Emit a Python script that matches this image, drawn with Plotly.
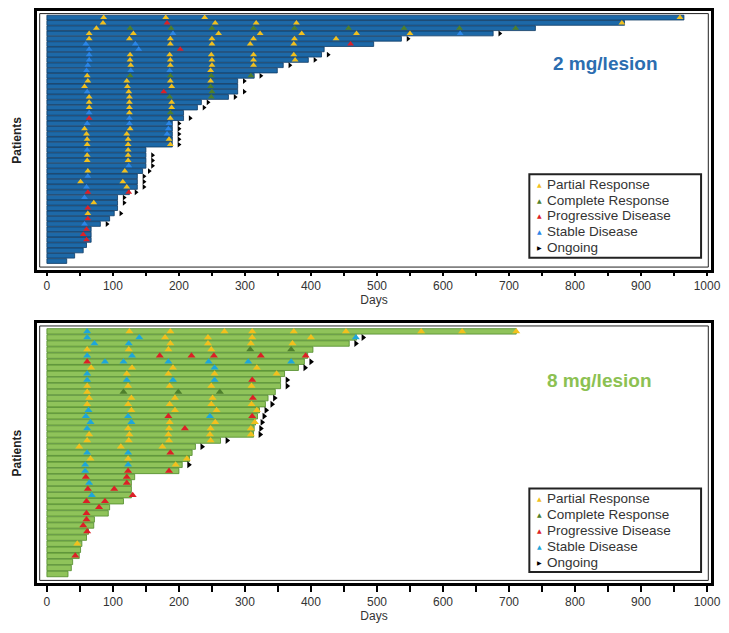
import plotly.graph_objects as go

# ---------------- 2 mg/lesion cohort ----------------
# treatment duration (days) per patient, top row first
days_2mg = [965, 875, 740, 676, 537, 495, 420, 416, 396, 358, 349, 314, 289, 289, 289,
            275, 234, 228, 207, 207, 190, 190, 190, 190, 190, 150, 150, 150, 150, 145,
            137, 137, 137, 125, 107, 107, 107, 102, 95, 81, 67, 67, 67, 60, 55, 42, 30]
ongoing_2mg = [4, 5, 8, 9, 10, 12, 13, 15, 16, 17, 18, 20, 21, 22, 23, 24, 25, 27, 28, 29,
               30, 31, 32, 33, 34, 35, 36, 38, 40]
# (patient row, assessment day)
pr_2mg = [(1, 86), (1, 180), (1, 239), (1, 959),
          (2, 85), (2, 255), (2, 317), (2, 378), (2, 871),
          (3, 75),
          (4, 64), (4, 131), (4, 260), (4, 323), (4, 386), (4, 469), (4, 550),
          (5, 64), (5, 125), (5, 187), (5, 250), (5, 313), (5, 375), (5, 438),
          (6, 187), (6, 250), (6, 308), (6, 374),
          (8, 126), (8, 186), (8, 249), (8, 313), (8, 374),
          (9, 126), (9, 187), (9, 250), (9, 313), (9, 376),
          (10, 127), (10, 187), (10, 250), (10, 313),
          (11, 248), (12, 61),
          (13, 62), (13, 121), (13, 187), (13, 248),
          (14, 57), (14, 122), (14, 189), (15, 124), (16, 64), (16, 125),
          (17, 64), (17, 125), (17, 189), (18, 64), (18, 125), (18, 189),
          (19, 125), (20, 187), (22, 57), (22, 126), (23, 60), (23, 121),
          (24, 61), (24, 123), (24, 185), (25, 61), (25, 123), (25, 187),
          (26, 123), (27, 61), (27, 123), (28, 61), (28, 123), (30, 62), (30, 118),
          (32, 51), (32, 115), (33, 121), (36, 71), (38, 62)]
cr_2mg = [(3, 126), (3, 188), (3, 250), (3, 313), (3, 375), (3, 457), (3, 541), (3, 625), (3, 710),
          (12, 126), (12, 187), (12, 249), (12, 309), (14, 248), (15, 250), (16, 186), (16, 249),
          (19, 187)]
pd_2mg = [(2, 182), (6, 460), (7, 202), (15, 177), (20, 64), (34, 62), (34, 124), (37, 62),
          (39, 62), (41, 60), (42, 55), (43, 60)]
sd_2mg = [(4, 191), (4, 626), (6, 59), (6, 134), (7, 64), (7, 139), (8, 64), (9, 64), (10, 62),
          (11, 60), (11, 127), (11, 186), (15, 61), (19, 64), (20, 125), (21, 61), (21, 125),
          (21, 185), (22, 184), (23, 182), (26, 61), (29, 124), (31, 62), (33, 60), (35, 57),
          (40, 57)]

# ---------------- 8 mg/lesion cohort ----------------
days_8mg = [711, 469, 458, 403, 395, 390, 381, 360, 354, 354, 346, 335, 331, 322, 319, 316,
            314, 313, 263, 225, 220, 216, 205, 200, 133, 128, 128, 128, 116, 95, 93, 72, 71,
            63, 60, 53, 51, 49, 39, 37, 32]
ongoing_8mg = [2, 3, 6, 7, 9, 10, 12, 13, 14, 15, 16, 17, 18, 19, 20, 23]
pr_8mg = [(1, 125), (1, 187), (1, 269), (1, 311), (1, 374), (1, 453), (1, 567), (1, 629), (1, 711),
          (2, 179), (2, 244), (2, 311), (2, 400),
          (3, 187), (3, 244), (3, 309), (3, 372),
          (4, 61), (4, 124), (4, 184), (4, 249),
          (7, 67), (7, 129), (7, 191), (7, 318),
          (8, 121), (8, 184), (8, 254), (8, 348),
          (10, 61), (10, 123), (10, 186), (10, 249), (10, 310),
          (11, 61),
          (12, 64), (12, 128), (12, 194), (12, 251),
          (13, 61), (13, 123), (13, 186), (13, 249), (13, 310),
          (14, 128), (14, 194), (14, 257), (14, 318),
          (16, 186), (16, 255), (16, 315),
          (17, 123), (17, 185), (17, 248), (17, 309),
          (18, 64), (18, 125), (18, 184), (18, 247), (18, 309),
          (19, 61), (19, 124), (19, 185), (19, 248),
          (20, 49), (20, 112), (20, 175),
          (22, 66), (22, 123), (22, 212), (23, 195), (36, 46)]
cr_8mg = [(4, 308), (4, 370), (11, 116), (11, 199), (11, 262)]
pd_8mg = [(5, 171), (5, 219), (5, 253), (5, 324), (5, 392), (6, 61), (9, 311), (12, 312),
          (15, 184), (15, 311), (17, 209), (21, 187), (24, 123), (24, 185), (25, 59), (25, 121),
          (26, 121), (27, 62), (27, 102), (28, 130), (29, 60), (29, 88), (30, 79), (31, 60),
          (32, 60), (33, 55), (34, 61), (38, 43)]
sd_8mg = [(1, 61), (2, 61), (2, 140), (2, 468), (3, 72), (3, 124), (5, 61), (5, 129), (6, 88),
          (6, 116), (6, 184), (6, 245), (6, 305), (6, 370), (7, 254), (8, 61), (9, 61), (9, 121),
          (9, 191), (9, 254), (14, 63), (15, 59), (15, 123), (15, 247), (16, 66), (16, 128),
          (17, 61), (21, 61), (21, 123), (23, 58), (23, 123), (24, 58), (26, 64), (28, 68)]

x_ticks = list(range(0, 1001, 50))
x_labels = [str(v) if v % 100 == 0 else "" for v in x_ticks]
legend_names = ["Partial Response", "Complete Response", "Progressive Disease",
                "Stable Disease", "Ongoing"]

FONT = "Liberation Sans, Arial, sans-serif"
PR_COLOR = "#f2c01e"
CR_COLOR = "#4e7f2c"
PD_COLOR = "#dc2027"
SD_2MG_COLOR = "#2b86e8"
SD_8MG_COLOR = "#1ea6da"

fig = go.Figure()


def add_panel(xa, ya, durations, ongoing, pr, cr, pd, sd,
              bar_fill, bar_line, sd_color, msize):
    rows = list(range(1, len(durations) + 1))
    fig.add_trace(go.Bar(
        y=rows, x=durations, base=0, orientation="h", width=0.9,
        marker=dict(color=bar_fill, line=dict(color=bar_line, width=0.8)),
        showlegend=False, hoverinfo="x", xaxis=xa, yaxis=ya))
    series = [(legend_names[0], pr, PR_COLOR),
              (legend_names[1], cr, CR_COLOR),
              (legend_names[2], pd, PD_COLOR),
              (legend_names[3], sd, sd_color)]
    for name, pts, col in series:
        fig.add_trace(go.Scatter(
            x=[d for _, d in pts], y=[r for r, _ in pts], mode="markers", name=name,
            marker=dict(symbol="triangle-up", size=msize, color=col, line=dict(width=0)),
            showlegend=False, xaxis=xa, yaxis=ya))
    fig.add_trace(go.Scatter(
        x=[durations[r - 1] + 10 for r in ongoing], y=ongoing, mode="markers",
        name=legend_names[4],
        marker=dict(symbol="triangle-right", size=msize - 1, color="black"),
        showlegend=False, xaxis=xa, yaxis=ya))


add_panel("x", "y", days_2mg, ongoing_2mg, pr_2mg, cr_2mg, pd_2mg, sd_2mg,
          "#1d69a8", "#0e3a63", SD_2MG_COLOR, 6)
add_panel("x2", "y2", days_8mg, ongoing_8mg, pr_8mg, cr_8mg, pd_8mg, sd_8mg,
          "#8fc35a", "#4f8a2a", SD_8MG_COLOR, 7)


def xaxis_style(ticklen):
    return dict(range=[-15, 1006], tickvals=x_ticks, ticktext=x_labels, ticks="outside",
                ticklen=ticklen, tickwidth=1.5, tickcolor="black", showgrid=False,
                zeroline=False, showline=True, linewidth=3, linecolor="black", mirror=True,
                tickfont=dict(family=FONT, size=12, color="#333"),
                title=dict(text="Days", font=dict(family=FONT, size=12, color="#333"),
                           standoff=4))


yaxis_style = dict(showticklabels=False, ticks="", showgrid=False, zeroline=False,
                   showline=True, linewidth=3, linecolor="black", mirror=True,
                   title=dict(text="<b>Patients</b>", font=dict(family=FONT, size=12, color="#222"),
                              standoff=10))

# plot area in pixels: left 37, width 679, top 8, height 575
W, H, L, T = 679.0, 575.0, 37.0, 8.0


def px_x(px):
    return (px - L) / W


def px_y(py):
    return 1 - (py - T) / H


shapes = []
annotations = [
    dict(text="<b>2 mg/lesion</b>", x=px_x(610), y=px_y(61), xref="paper", yref="paper",
         xanchor="center", yanchor="middle", showarrow=False,
         font=dict(family=FONT, size=19, color="#2b6db0")),
    dict(text="<b>8 mg/lesion</b>", x=px_x(604), y=px_y(379), xref="paper", yref="paper",
         xanchor="center", yanchor="middle", showarrow=False,
         font=dict(family=FONT, size=19, color="#8cc152")),
]

# inner thin rule of the double frame
for xa, ya in (("x", "y"), ("x2", "y2")):
    shapes.append(dict(type="rect", xref=xa + " domain", yref=ya + " domain",
                       x0=0.004, x1=0.996, y0=0.01, y1=0.99,
                       line=dict(color="#222", width=1), fillcolor="rgba(0,0,0,0)"))

# legend boxes
for top, sd_col in ((172, SD_2MG_COLOR), (488, SD_8MG_COLOR)):
    shapes.append(dict(type="rect", xref="paper", yref="paper",
                       x0=px_x(533), x1=px_x(706), y0=px_y(top + 84), y1=px_y(top),
                       line=dict(color="#222", width=2), fillcolor="white"))
    sym_colors = [PR_COLOR, CR_COLOR, PD_COLOR, sd_col, "black"]
    for i, name in enumerate(legend_names):
        yy = px_y(top + 10 + 16 * i)
        glyph = "▶" if name == "Ongoing" else "▲"
        annotations.append(dict(text=glyph, x=px_x(543), y=yy, xref="paper", yref="paper",
                                xanchor="center", yanchor="middle", showarrow=False,
                                font=dict(family="DejaVu Sans", size=6,
                                          color=sym_colors[i])))
        annotations.append(dict(text=name, x=px_x(549), y=yy, xref="paper", yref="paper",
                                xanchor="left", yanchor="middle", showarrow=False,
                                font=dict(family=FONT, size=13.5, color="#333")))

fig.update_layout(
    width=729, height=633, margin=dict(l=37, r=13, t=8, b=50),
    paper_bgcolor="white", plot_bgcolor="white", barmode="overlay", showlegend=False,
    xaxis=dict(domain=[0, 1], anchor="y", **xaxis_style(3)),
    yaxis=dict(domain=[0.5478, 1], anchor="x", range=[48.63, -0.25], **yaxis_style),
    xaxis2=dict(domain=[0, 1], anchor="y2", **xaxis_style(6)),
    yaxis2=dict(domain=[0, 0.4539], anchor="x2", range=[42.48, -0.32], **yaxis_style),
    shapes=shapes,
    annotations=annotations,
)

fig.write_html("out.html")
